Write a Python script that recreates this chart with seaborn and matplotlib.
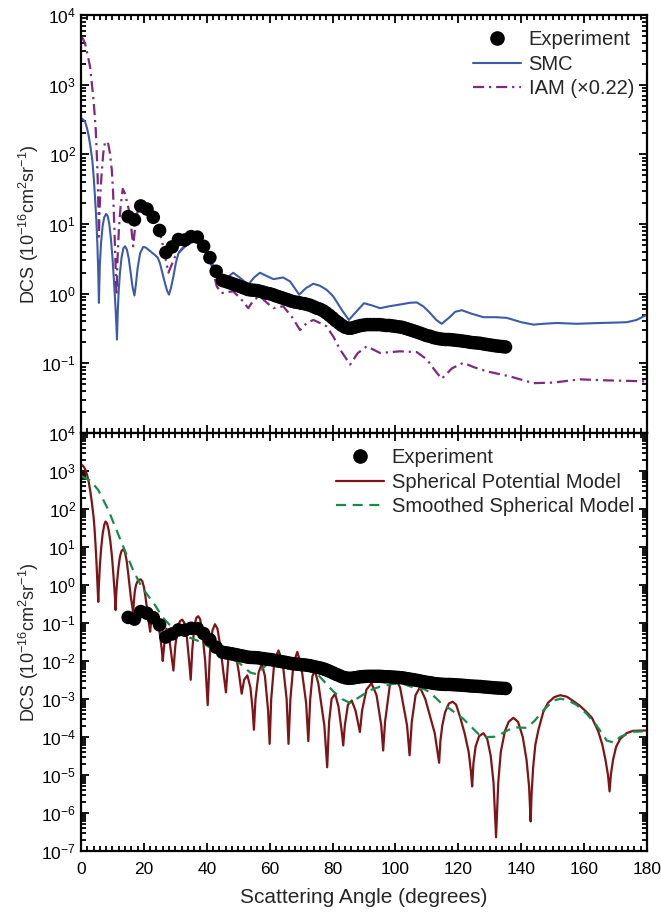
import numpy as np
import matplotlib
matplotlib.use("Agg")
import matplotlib.pyplot as plt
from matplotlib.ticker import MultipleLocator, LogLocator, FuncFormatter, NullFormatter
from matplotlib.lines import Line2D
import seaborn as sns

# ---------------- measured cross sections (upper panel) ----------------
exp_angle = [15, 17, 19, 21, 23, 25, 27, 29, 31, 33, 35, 37, 39, 41, 43, 45,
             46, 47, 48, 49, 50, 51, 52, 53, 54, 55, 56, 57, 58, 59, 60,
             61, 62, 63, 64, 65, 66, 67, 68, 69, 70, 71, 72, 73, 74, 75,
             76, 77, 78, 79, 80, 81, 82, 83, 84, 85, 86, 87, 88, 89, 90,
             91, 92, 93, 94, 95, 96, 97, 98, 99, 100, 101, 102, 103, 104, 105,
             106, 107, 108, 109, 110, 111, 112, 113, 114, 115, 116, 117, 118, 119, 120,
             121, 122, 123, 124, 125, 126, 127, 128, 129, 130, 131, 132, 133, 134, 135]
exp_dcs = [12.8, 11.5, 18.2, 16.4, 12.5, 8.1, 3.9, 4.7, 6.0, 5.9, 6.6, 6.5, 4.8, 3.3, 2.1, 1.55,
           1.50, 1.45, 1.40, 1.35, 1.30, 1.25, 1.20, 1.15, 1.13, 1.12, 1.11, 1.08, 1.05, 1.02, 1.00,
           0.97, 0.93, 0.90, 0.87, 0.84, 0.81, 0.78, 0.76, 0.75, 0.73, 0.72, 0.70, 0.68, 0.65, 0.62,
           0.60, 0.57, 0.53, 0.49, 0.45, 0.41, 0.38, 0.35, 0.33, 0.32, 0.32, 0.33, 0.34, 0.35, 0.355,
           0.36, 0.36, 0.36, 0.36, 0.36, 0.355, 0.35, 0.35, 0.345, 0.34, 0.335, 0.33, 0.32, 0.31, 0.30,
           0.29, 0.28, 0.27, 0.26, 0.25, 0.245, 0.235, 0.23, 0.225, 0.222, 0.22, 0.22, 0.218, 0.215, 0.213,
           0.21, 0.207, 0.204, 0.20, 0.198, 0.196, 0.194, 0.19, 0.187, 0.184, 0.181, 0.178, 0.176, 0.174, 0.172]
# the lower panel shows the same measurement in its own normalisation
exp_lower_scale = 0.011

smc_angle = [0, 0.6, 1.3, 1.9, 2.5, 3.0, 3.6, 4.0, 4.45, 4.85, 5.2, 5.5, 5.7, 6.0, 6.4, 6.9,
             7.4, 8.0, 8.5, 9.0, 9.5, 10.0, 10.5, 10.9, 11.2, 11.45, 11.7, 12.0, 12.4, 12.9,
             13.5, 14.0, 14.6, 15.2, 15.8, 16.4, 17.0, 17.5, 18.0, 18.8, 19.8, 20.6, 21.4,
             23.5, 24.4, 25.1, 26.0, 26.7, 27.4, 28.0, 28.6, 29.4, 30.2, 31.0, 32.0, 33.1,
             34.7, 36.0, 37.3, 38.9, 41.0, 43.2, 45.3, 46.5, 48.4, 50.5, 53.2,
             55.0, 56.9, 59.0, 61.2, 64.3, 66.5, 69.4, 71.5, 73.9, 76.0, 78.1, 80.2, 83.0, 85.2,
             87.5, 90.0, 92.5, 95.1, 98.0, 101.5, 104.5, 106.8, 109.0, 111.0, 113.0, 114.7, 117.0,
             119.0, 121.1, 124.0, 128.0, 132.0, 135.4, 140.0, 143.9, 147.0, 151.3, 157.7, 165.1,
             170.0, 173.6, 176.7, 180.0]
smc_dcs = [330, 320, 295, 240, 180, 130, 83, 50, 25, 12, 5.4, 2.0, 0.74, 2.6, 5.5, 9.5,
           12.5, 14, 13, 10, 6.3, 3.4, 1.5, 0.75, 0.4, 0.22, 0.55, 1.1, 2.0, 3.3,
           4.5, 4.8, 4.3, 3.2, 2.0, 1.25, 0.94, 1.4, 2.3, 3.8, 4.7, 4.6, 4.3,
           3.6, 3.3, 2.75, 1.9, 1.42, 1.1, 0.97, 1.2, 1.77, 2.8, 3.8, 4.4, 4.8,
           5.3, 5.9, 5.6, 4.8, 3.2, 2.0, 1.5, 1.7, 2.0, 1.7, 1.35,
           1.7, 2.0, 1.8, 1.62, 1.71, 1.5, 0.97, 1.2, 1.39, 1.3, 1.14, 0.92, 0.58, 0.42,
           0.55, 0.73, 0.68, 0.62, 0.66, 0.70, 0.74, 0.75, 0.65, 0.53, 0.42, 0.37, 0.45,
           0.55, 0.58, 0.52, 0.46, 0.46, 0.45, 0.39, 0.36, 0.37, 0.38, 0.37, 0.38,
           0.385, 0.39, 0.42, 0.50]

# independent atom model, already multiplied by 0.22
iam_angle = [0, 0.6, 1.3, 2.1, 2.9, 3.4, 3.9, 4.3, 4.7, 5.0, 5.3, 5.5, 5.7, 5.9, 6.1, 6.6,
             7.1, 7.6, 8.1, 8.7, 9.2, 9.8, 10.2, 10.6, 10.9, 11.3, 11.6, 12.1, 12.6, 13.3,
             13.9, 14.5, 15.1, 15.6, 16.1, 16.6, 17.1, 17.6, 18.2, 18.8, 21.4, 23.5, 25.7,
             27.8, 29.9, 32.5, 35.2,
             37.3, 39.4, 41.6, 43.2, 44.7, 46.5, 48.4, 50.8, 53.2, 55.0, 56.9, 59.0, 61.2,
             64.3, 67.0, 69.7, 71.8, 73.9, 76.0, 78.1, 80.3, 82.4, 85.6, 88.0, 90.9, 95.1,
             101.5, 106.8, 110.0, 112.5, 114.7, 118.0, 121.6, 125.0, 129.0, 136.4, 143.9,
             150.2, 158.7, 167.2, 174.6, 180.0]
iam_dcs = [4900, 4600, 3900, 2700, 1800, 1100, 670, 400, 224, 110, 48, 20, 6.6, 15, 25, 55,
           105, 145, 155, 140, 105, 60, 30, 9.2, 3.5, 0.95, 3.0, 9.2, 18, 32,
           28, 22, 17, 12.8, 8.0, 4.8, 8.0, 12, 17, 20, 16, 11.5, 5.9,
           2.0, 3.4, 4.5, 5.9,
           6.3, 4.3, 2.5, 1.27, 1.02, 1.06, 1.08, 0.85, 0.62, 0.82, 0.92, 0.75, 0.62,
           0.66, 0.47, 0.30, 0.38, 0.42, 0.38, 0.34, 0.24, 0.158, 0.096, 0.14, 0.176, 0.141,
           0.149, 0.145, 0.114, 0.08, 0.060, 0.085, 0.102, 0.088, 0.077, 0.065, 0.052,
           0.053, 0.059, 0.057, 0.056, 0.055]

# ---------------- model cross sections (lower panel) ----------------
spm_angle = [0, 0.5, 1, 1.5, 2, 2.5, 3, 3.5, 4, 4.3, 4.6, 4.9, 5.1, 5.3, 5.5,
             5.7, 6.0, 6.4, 6.9, 7.4, 7.8, 8.3, 8.8, 9.3, 9.8, 10.2, 10.6, 10.8, 11.0,
             11.2, 11.5, 11.9, 12.4, 12.9, 13.5, 14.0, 14.5, 15.0, 15.5, 15.9, 16.3, 16.6,
             16.8, 17.1, 17.5, 18.0, 18.5, 19.0, 19.5, 20.0, 20.5, 21.0, 21.4, 21.7, 22.0,
             22.2, 22.5, 23.0, 23.6, 24.2, 24.8, 25.4, 25.7, 26.0, 26.5,
             27.2, 27.9, 28.7, 29.4, 30.0, 30.8, 31.5, 32.2, 32.9, 33.7, 34.4, 34.9, 35.4,
             36.1, 36.7, 37.3, 37.9, 38.6, 39.5, 40.3, 41.0, 41.8, 42.6, 43.4, 44.3, 45.3,
             46.1, 46.8, 47.6, 48.4, 49.2, 50.2, 51.1, 51.9, 52.9, 53.9, 54.6, 55.0, 55.5,
             56.5, 57.5, 58.5, 59.5, 60.0, 60.5, 61.5, 62.8, 64.1, 65.4, 66.0, 66.6, 67.6,
             68.8, 70.0, 71.6, 72.3, 72.9, 73.6, 74.4, 75.5, 77.4, 78.3, 78.9, 79.7, 80.8,
             81.9, 83.0, 83.4, 83.9, 84.9, 86.1, 87.3, 88.4, 88.7, 89.4, 90.8, 92.4, 94.0,
             95.5, 96.1, 96.7, 98.2, 99.8, 101.5, 103.7, 104.5, 105.2, 106.4, 107.8, 109.5,
             112.5, 113.9, 114.3, 114.9, 115.8, 117.0, 118.2, 119.3, 120.5, 122.0, 123.3,
             124.0, 124.4, 124.8, 125.5, 126.6, 128.0, 129.2, 130.3, 131.2, 132.0, 132.7,
             133.5, 134.8, 136.0, 137.5, 139.0, 140.5, 141.7, 142.5, 143.0, 143.3, 143.8,
             144.5, 145.5, 147.0, 148.5, 150.5, 152.4, 154.5, 156.5, 158.5, 160.5, 162.5,
             164.5, 165.8, 166.8, 167.6, 168.1, 168.5, 169.2, 170.2, 171.5, 173.5, 175.5,
             178.0, 180.0]
spm_dcs = [1.45e3, 1.41e3, 1.26e3, 1.02e3, 7.6e2, 5.0e2, 2.8e2, 1.41e2, 63, 31.6, 12.6, 4.5, 2.0, 0.89, 0.36,
           1.0, 3.16, 8.9, 22.4, 38, 47, 41.7, 28.2, 15.1, 6.3, 2.5, 0.89, 0.50, 0.22,
           0.56, 1.26, 2.8, 5.6, 7.9, 8.7, 7.2, 4.5, 2.1, 0.89, 0.45, 0.28, 0.18,
           0.35, 0.66, 1.0, 1.26, 1.38, 1.41, 1.26, 0.89, 0.50, 0.24, 0.126, 0.089, 0.059,
           0.089, 0.126, 0.17, 0.19, 0.15, 0.079, 0.032, 0.020, 0.010, 0.028,
           0.071, 0.050, 0.016, 0.0056, 0.025, 0.079, 0.112, 0.123, 0.10, 0.040, 0.010, 0.0032, 0.020,
           0.089, 0.138, 0.151, 0.126, 0.056, 0.010, 6.9e-4, 0.016, 0.063, 0.093, 0.071, 0.025, 5.0e-3,
           1.5e-3, 0.010, 0.0178, 0.0214, 0.0158, 5.0e-3, 1.38e-3, 3.2e-3, 4.2e-3, 2.0e-3, 5.0e-4, 1.55e-4, 1.0e-3,
           5.0e-3, 8.5e-3, 4.0e-3, 5.0e-4, 6.6e-5, 1.0e-3, 1.0e-2, 1.9e-2, 1.0e-2, 1.0e-3, 6.6e-5, 1.0e-3, 8.9e-3,
           1.74e-2, 7.9e-3, 7.9e-4, 7.8e-5, 1.0e-3, 4.0e-3, 5.6e-3, 2.5e-3, 2.0e-4, 1.6e-5, 2.5e-4, 1.0e-3, 1.38e-3,
           6.3e-4, 1.26e-4, 6.0e-5, 2.0e-4, 7.1e-4, 9.1e-4, 5.0e-4, 1.78e-4, 1.35e-4, 5.0e-4, 1.78e-3, 2.6e-3, 1.26e-3,
           2.0e-4, 4.4e-5, 2.5e-4, 2.24e-3, 3.8e-3, 2.0e-3, 2.0e-4, 3.3e-5, 2.5e-4, 1.26e-3, 2.04e-3, 1.0e-3,
           1.26e-4, 2.1e-5, 7.9e-5, 2.0e-4, 4.5e-4, 7.6e-4, 8.5e-4, 7.1e-4, 3.5e-4, 1.26e-4, 4.0e-5,
           1.26e-5, 5.0e-6, 2.0e-5, 5.6e-5, 1.05e-4, 1.26e-4, 8.9e-5, 3.2e-5, 6.3e-6, 2.3e-7, 6.3e-6,
           4.0e-5, 1.41e-4, 2.5e-4, 3.2e-4, 2.5e-4, 1.0e-4, 2.5e-5, 5.0e-6, 6.0e-7, 3.2e-6, 1.6e-5,
           6.3e-5, 1.58e-4, 4.5e-4, 7.9e-4, 1.12e-3, 1.26e-3, 1.15e-3, 8.9e-4, 6.8e-4, 4.8e-4, 3.2e-4,
           1.41e-4, 6.3e-5, 2.5e-5, 1.0e-5, 3.7e-6, 1.0e-5, 2.5e-5, 5.6e-5, 8.9e-5, 1.26e-4, 1.45e-4,
           1.48e-4, 1.48e-4]

ssm_angle = [0, 3.0, 5.5, 8.7, 11.0, 13.5, 16.6, 19.3, 23.5, 26.0, 28.8, 31.5, 35.0, 38.0,
             42.1, 46.3, 50.6, 53.8, 55.8, 59.0, 63.3, 67.0, 70.0, 73.0, 75.0, 80.2, 83.0,
             85.6, 88.5, 91.9, 95.0, 99.3, 102.5, 105.7, 108.9, 111.0, 114.2, 118.0, 121.6,
             124.0, 126.4, 129.0, 132.2, 135.0, 137.7, 141.8, 144.4, 147.0, 150.2, 152.5,
             154.5, 157.5, 160.8, 164.0, 167.2, 169.5, 171.4, 175.7, 180.0]
ssm_dcs = [740, 560, 316, 95, 32, 10, 2.45, 0.89, 0.30, 0.14, 0.079, 0.052, 0.040, 0.032,
           0.020, 0.014, 0.0085, 0.005, 0.0045, 0.0079, 0.0129, 0.0112, 0.0079, 0.0056, 0.0047, 0.0016, 0.0010,
           7.9e-4, 1.12e-3, 1.7e-3, 2.1e-3, 2.5e-3, 2.5e-3, 2.0e-3, 1.86e-3, 1.5e-3, 8.3e-4, 5.0e-4, 3.0e-4,
           1.9e-4, 1.2e-4, 1.0e-4, 1.02e-4, 1.4e-4, 1.8e-4, 1.74e-4, 2.75e-4, 5.0e-4, 9.1e-4, 1.02e-3,
           9.5e-4, 7.1e-4, 4.1e-4, 2.0e-4, 8.1e-5, 7.1e-5, 1.0e-4, 1.38e-4, 1.41e-4]

x_ticks = [0, 20, 40, 60, 80, 100, 120, 140, 160, 180]

# ---------------- styling ----------------
sns.set_theme(style="ticks")
plt.rcParams["font.family"] = ["Liberation Sans", "DejaVu Sans"]
plt.rcParams["mathtext.fontset"] = "custom"
plt.rcParams["mathtext.rm"] = "Liberation Sans"
plt.rcParams["mathtext.it"] = "Liberation Sans:italic"
plt.rcParams["mathtext.bf"] = "Liberation Sans:bold"

C_EXP = "black"
C_SMC = "#3c5ba8"
C_IAM = "#7e2a7f"
C_SPM = "#7d1518"
C_SSM = "#1a8a4c"
IAM_DASH = (0, (5, 2.2, 1, 2.2))
SSM_DASH = (0, (4.5, 3))

fig = plt.figure(figsize=(6.61, 9.13), dpi=100)
ax_top = fig.add_axes([0.1225, 0.5257, 0.8563, 0.4578])
ax_bot = fig.add_axes([0.1225, 0.0679, 0.8563, 0.4578])

ylabel = r"DCS (10$^{-16}$cm$^{2}$sr$^{-1}$)"


def decade_formatter(hidden):
    def fmt(v, pos):
        e = int(round(np.log10(v)))
        if e in hidden:
            return ""
        return r"$10^{%d}$" % e
    return FuncFormatter(fmt)


def style_axes(ax, lo, hi, hidden):
    ax.set_xlim(0, 180)
    ax.set_yscale("log")
    ax.set_ylim(10.0 ** lo, 10.0 ** hi)
    ax.set_xticks(x_ticks)
    ax.xaxis.set_minor_locator(MultipleLocator(2))
    ax.yaxis.set_major_locator(LogLocator(base=10, numticks=30))
    ax.yaxis.set_minor_locator(LogLocator(base=10, subs=np.arange(2, 10), numticks=30))
    ax.yaxis.set_major_formatter(decade_formatter(hidden))
    ax.yaxis.set_minor_formatter(NullFormatter())
    ax.tick_params(which="both", direction="in", top=True, right=True,
                   width=1.3, colors="black", labelsize=12.5)
    ax.tick_params(which="major", length=6)
    ax.tick_params(which="minor", length=3.5)
    ax.tick_params(axis="x", pad=8)
    for s in ax.spines.values():
        s.set_linewidth(1.6)
        s.set_color("black")
    ax.set_ylabel(ylabel, fontsize=13)
    ax.yaxis.set_label_coords(-0.07, 0.5)


def add_legend(ax, handles, labels):
    ax.legend(handles, labels, loc="upper right", bbox_to_anchor=(0.9876, 0.978),
              frameon=False, fontsize=14.5, handlelength=2.4, handletextpad=0.36,
              labelspacing=0.27, borderpad=0.3, borderaxespad=0.0)


# upper panel
style_axes(ax_top, -2, 4, hidden={-2})
ax_top.tick_params(axis="x", labelbottom=False)
sns.lineplot(x=iam_angle, y=iam_dcs, ax=ax_top, color=C_IAM, lw=1.6,
             linestyle=IAM_DASH, estimator=None, sort=False, legend=False)
sns.lineplot(x=smc_angle, y=smc_dcs, ax=ax_top, color=C_SMC, lw=1.5,
             estimator=None, sort=False, legend=False)
sns.scatterplot(x=exp_angle, y=exp_dcs, ax=ax_top, color=C_EXP, s=95,
                edgecolor="none", zorder=5, legend=False)

add_legend(ax_top,
           [Line2D([], [], color=C_EXP, marker="o", ls="none", markersize=9.5),
            Line2D([], [], color=C_SMC, lw=1.5),
            Line2D([], [], color=C_IAM, lw=1.6, ls=IAM_DASH)],
           ["Experiment", "SMC", "IAM (\u00d70.22)"])

# lower panel
style_axes(ax_bot, -7, 4, hidden=set())
sns.lineplot(x=spm_angle, y=spm_dcs, ax=ax_bot, color=C_SPM, lw=1.6,
             estimator=None, sort=False, legend=False)
sns.lineplot(x=ssm_angle, y=ssm_dcs, ax=ax_bot, color=C_SSM, lw=1.6,
             linestyle=SSM_DASH, estimator=None, sort=False, legend=False)
sns.scatterplot(x=exp_angle, y=np.asarray(exp_dcs) * exp_lower_scale, ax=ax_bot,
                color=C_EXP, s=95, edgecolor="none", zorder=5, legend=False)
ax_bot.set_xlabel("Scattering Angle (degrees)", fontsize=15, labelpad=8)

add_legend(ax_bot,
           [Line2D([], [], color=C_EXP, marker="o", ls="none", markersize=9.5),
            Line2D([], [], color=C_SPM, lw=1.6),
            Line2D([], [], color=C_SSM, lw=1.6, ls=SSM_DASH)],
           ["Experiment", "Spherical Potential Model", "Smoothed Spherical Model"])

fig.savefig("out.png", dpi=100)
